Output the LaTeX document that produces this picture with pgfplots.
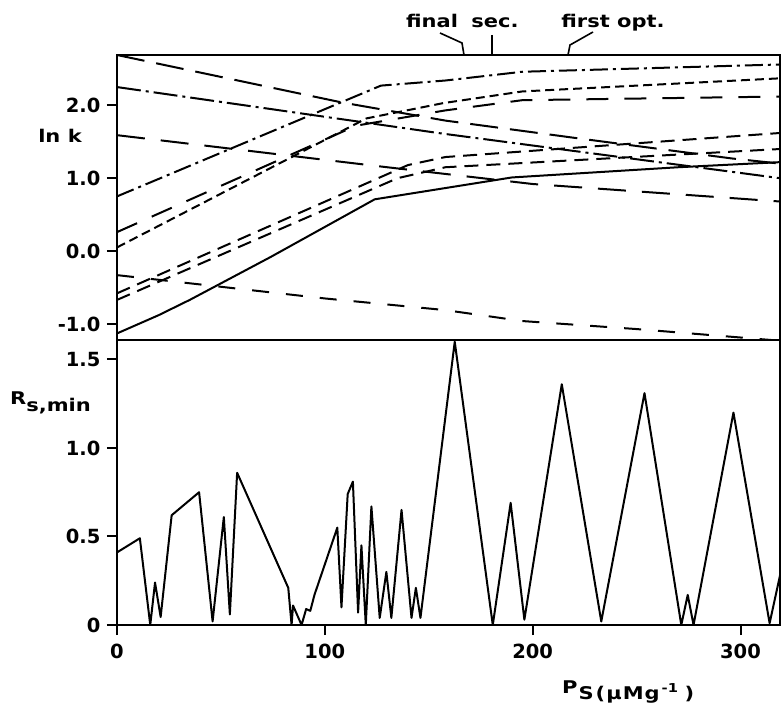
\documentclass[border=0pt]{standalone}
\usepackage{pgfplots}
\pgfplotsset{compat=1.18}
\usepackage{fontspec}
\setmainfont{DejaVu Sans}
\newfontfamily\labfamily[FakeStretch=1.2]{DejaVu Sans}
\newcommand\labfont{\labfamily\fontsize{17.5}{17.5}\selectfont\bfseries}
\newcommand\tickfont{\fontsize{19.5}{20}\selectfont\bfseries}

\pgfplotsset{
  panel/.style={
    scale only axis, width=663pt, height=285pt,
    xmin=0, xmax=319,
    axis line style={line width=2.2pt},
    tick style={line width=2pt, black},
    major tick length=10pt,
    tick align=outside,
    ytick pos=left,
    /pgf/number format/assume math mode=true,
    tick label style={font=\tickfont},
    yticklabel style={xshift=-3pt},
    xticklabel style={yshift=-5pt},
    every axis plot post/.append style={line width=2pt, black, line join=round, mark=none},
  },
  lA/.style={dash pattern=on 28pt off 12pt},
  lB/.style={dash pattern=on 28pt off 16pt},
  lowd/.style={dash pattern=on 17pt off 17pt},
  dd1/.style={dash pattern=on 24pt off 5pt on 3pt off 5pt},
  dd2/.style={dash pattern=on 18pt off 5pt on 3pt off 5pt},
  sd/.style={dash pattern=on 9pt off 5pt},
  md/.style={dash pattern=on 22pt off 16pt},
  pd/.style={dash pattern=on 14pt off 8pt},
}

\begin{document}
\begin{tikzpicture}
\useasboundingbox (0pt,0pt) rectangle (781pt,704pt);

% upper panel: ln k
\begin{axis}[panel, at={(117pt,364pt)}, anchor=south west,
  ymin=-1.22, ymax=2.69,
  xtick=\empty,
  ytick={-1,0,1,2}, yticklabels={-1.0,0.0,1.0,2.0}]
\addplot[solid] coordinates {(0,-1.13) (20,-0.88) (35,-0.67) (74,-0.08) (124,0.71) (190,1.01) (270,1.15) (319,1.22)};
\addplot[pd] coordinates {(0,-0.58) (140,1.18) (158,1.29) (319,1.62)};
\addplot[pd] coordinates {(0,-0.67) (135,1.00) (158,1.15) (319,1.40)};
\addplot[sd] coordinates {(0,0.05) (120,1.82) (157,2.03) (195,2.19) (319,2.37)};
\addplot[md] coordinates {(0,0.26) (115,1.72) (158,1.93) (195,2.07) (319,2.12)};
\addplot[dd2] coordinates {(0,0.75) (127,2.27) (158,2.34) (195,2.46) (319,2.56)};
\addplot[dd1] coordinates {(0,2.25) (157,1.61) (319,1.00)};
\addplot[lA] coordinates {(0,2.69) (108,2.04) (158,1.79) (221,1.55) (296,1.27) (319,1.20)};
\addplot[lB] coordinates {(0,1.59) (130,1.15) (200,0.92) (319,0.68)};
\addplot[lowd] coordinates {(0,-0.33) (50,-0.49) (100,-0.65) (158,-0.81) (195,-0.96) (250,-1.07) (319,-1.23)};
\end{axis}

% lower panel: Rs,min
\begin{axis}[panel, at={(117pt,79pt)}, anchor=south west,
  ymin=0, ymax=1.61,
  xtick={0,100,200,300}, xticklabels={0,100,200,300}, xtick pos=bottom,
  ytick={0,0.5,1,1.5}, yticklabels={0,0.5,1.0,1.5}]
\addplot[solid] coordinates {(0,0.41) (11,0.49) (16,0) (18.3,0.24) (21,0.045) (26.3,0.62) (39.5,0.75) (46,0.02) (51.4,0.61) (54.3,0.06) (57.8,0.86) (82.4,0.21) (84,0) (84.7,0.11) (88.8,0) (91,0.09) (93,0.08) (95,0.17) (106,0.55) (108,0.10) (111,0.74) (113.5,0.81) (116,0.07) (117.6,0.45) (119.7,0) (122.4,0.67) (126.4,0.04) (129.6,0.30) (132,0.04) (136.9,0.65) (141.7,0.04) (143.8,0.21) (146,0.04) (162.5,1.60) (180.8,0) (189.4,0.69) (196,0.03) (214,1.36) (233,0.02) (253.8,1.31) (271.5,0) (274.6,0.17) (277.4,0) (296.6,1.20) (314,0.01) (319,0.28)};
\end{axis}

% labels
\node[anchor=base, inner sep=0] at (60pt,561pt) {\labfont ln k};
\node[anchor=base west, inner sep=0] at (10pt,299pt) {\labfont R\raisebox{-7pt}{s,min}};
\node[anchor=base west, inner sep=0] at (562pt,11pt) {\labfont P\raisebox{-6pt}{\hspace{1pt}S\hspace{2pt}(\hspace{1pt}µ\hspace{1pt}M\hspace{1pt}g\textsuperscript{\hspace{2pt}-1}\hspace{6pt})}};

% top annotations
\node[anchor=base, inner sep=0] at (432pt,676pt) {\labfont final};
\node[anchor=base, inner sep=0] at (495pt,676pt) {\labfont sec.};
\node[anchor=base, inner sep=0] at (613pt,676pt) {\labfont first opt.};
\draw[line width=1.6pt] (440pt,671pt) -- (462pt,661pt) -- (464pt,649pt);
\draw[line width=1.6pt] (492pt,669pt) -- (492pt,649pt);
\draw[line width=1.6pt] (593pt,672pt) -- (570pt,659pt) -- (568pt,649pt);
\end{tikzpicture}
\end{document}
